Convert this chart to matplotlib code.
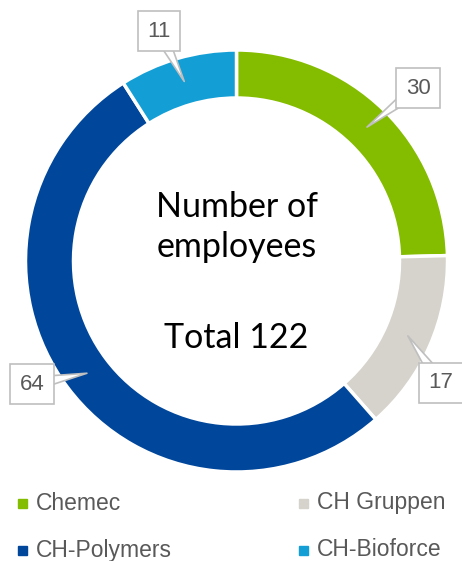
import matplotlib.pyplot as plt
import numpy as np

# data
companies = ["Chemec", "CH Gruppen", "CH-Polymers", "CH-Bioforce"]
employees = [30, 17, 64, 11]
colors = ["#84BC00", "#D6D2CC", "#00469B", "#139FD6"]

W, H = 462, 561
fig = plt.figure(figsize=(W / 100, H / 100), dpi=100)
ax = fig.add_axes([0, 0, 1, 1])

def py(y):
    # pixel y (from top) to data y
    return H - y

cx, cy = 236.5, py(261)
r_out, ring = 211, 48

ax.pie(employees, colors=colors, startangle=90, counterclock=False,
       radius=r_out, center=(cx, cy),
       wedgeprops=dict(width=ring, edgecolor="white", linewidth=2.5))

ax.set_xlim(0, W)
ax.set_ylim(0, H)
ax.set_aspect("equal")
ax.axis("off")

# centre text
ax.text(cx, py(207), "Number of", ha="center", va="center", fontsize=24.5,
        family="Lato", color="black")
ax.text(cx, py(247), "employees", ha="center", va="center", fontsize=24.5,
        family="Lato", color="black")
ax.text(cx, py(338), "Total %d" % sum(employees), ha="center", va="center",
        fontsize=24.5, family="Lato", color="black")

# callout labels
total = sum(employees)
cum = np.cumsum(employees)
mid = 90 - 360 * (cum - np.array(employees) / 2) / total
r_mid = r_out - ring / 2
box_pos = [(418, 88), (441, 383), (32, 384), (159, 31)]
for v, a, (bx, by) in zip(employees, mid, box_pos):
    tip = (cx + r_mid * np.cos(np.radians(a)), cy + r_mid * np.sin(np.radians(a)))
    ax.annotate(str(v), xy=tip, xytext=(bx, py(by)), ha="center", va="center",
                fontsize=16, color="#595959", family="Liberation Sans",
                bbox=dict(boxstyle="square,pad=0.42", fc="white", ec="#BFBFBF", lw=1.2),
                arrowprops=dict(arrowstyle="wedge,tail_width=0.6", fc="white",
                                ec="#BFBFBF", lw=1.2, patchA=None, shrinkB=0))

# legend
leg_pos = [(18, 503), (299, 503), (18, 550), (299, 550)]
for name, c, (lx, ly) in zip(companies, colors, leg_pos):
    ax.add_patch(plt.Rectangle((lx, py(ly) - 4.5), 9, 9, color=c))
    ax.text(lx + 18, py(ly), name, ha="left", va="center", fontsize=16.5,
            family="Liberation Sans", color="#595959")

fig.savefig("out.png", dpi=100)
